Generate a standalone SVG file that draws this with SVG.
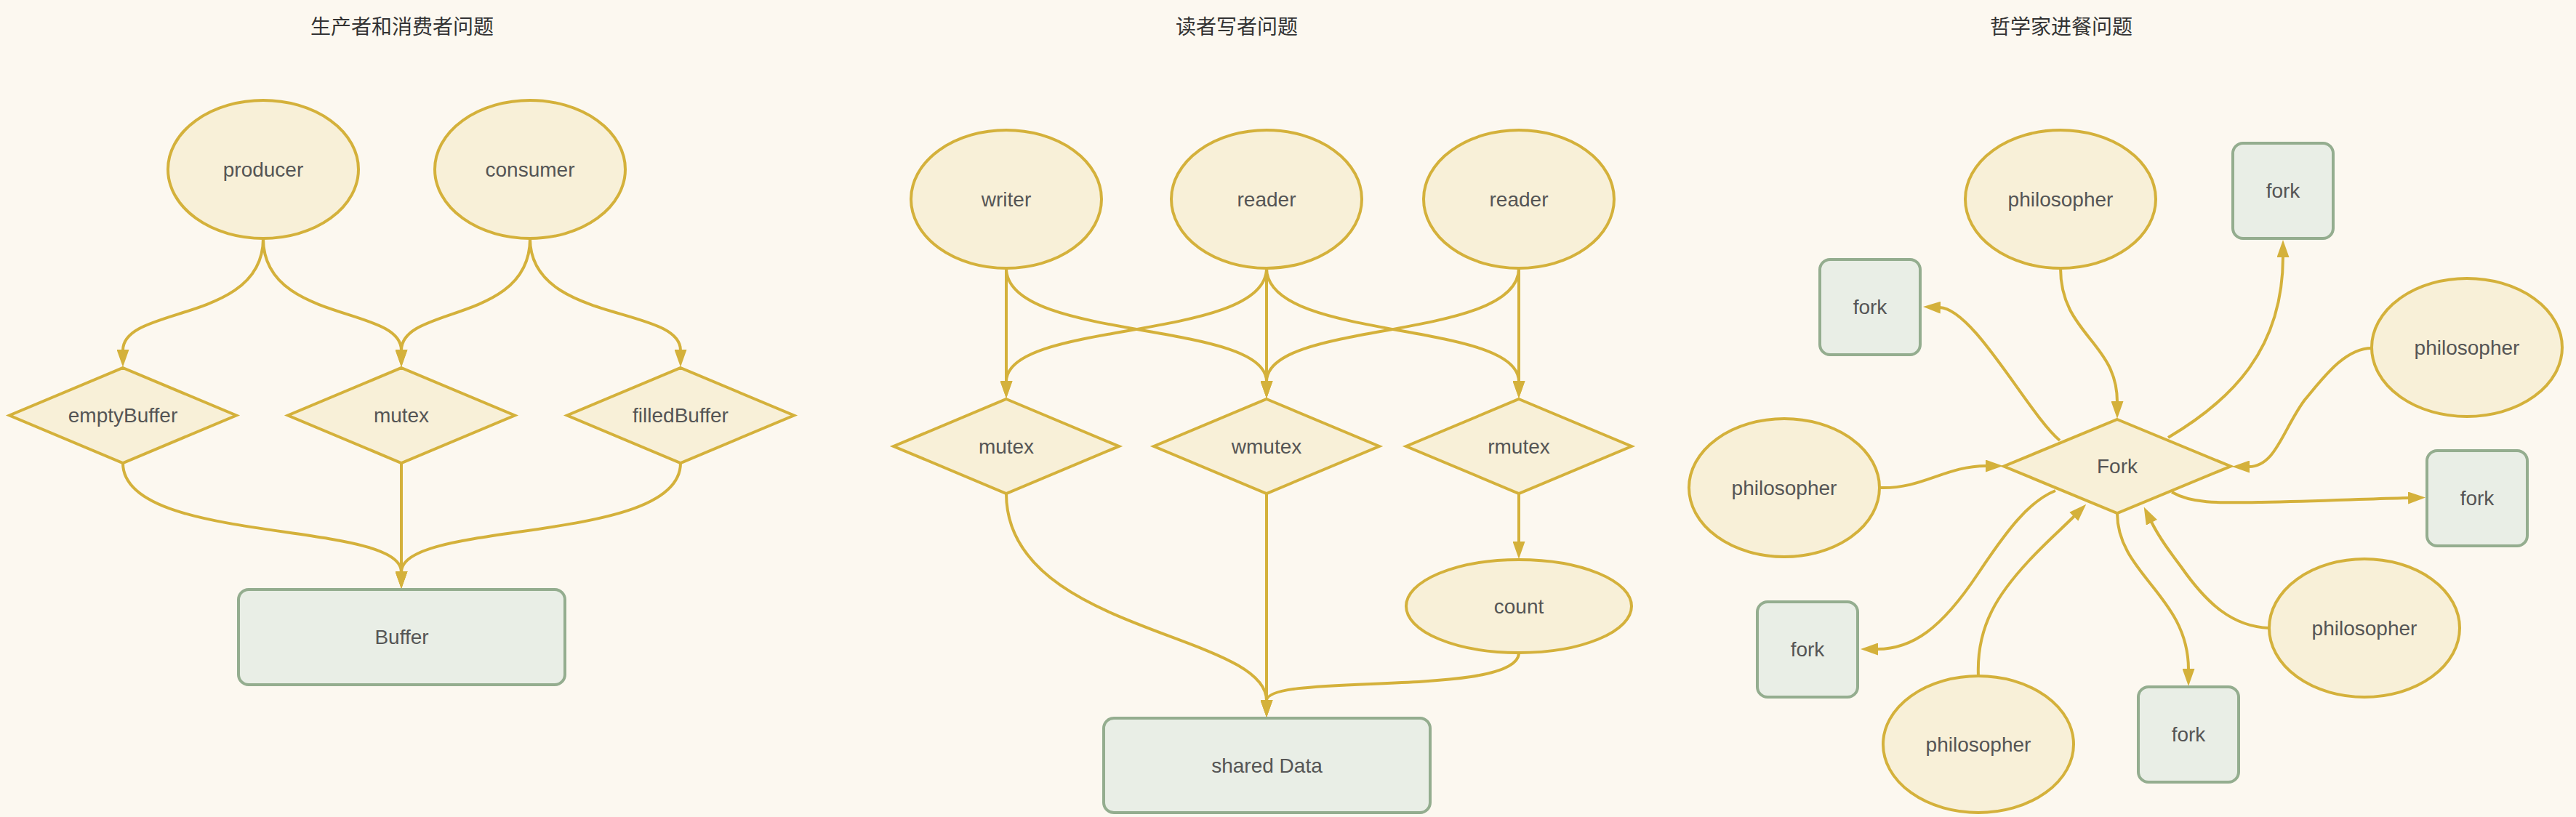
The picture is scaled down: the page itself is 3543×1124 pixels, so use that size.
<svg xmlns="http://www.w3.org/2000/svg" width="3543" height="1124" viewBox="0 0 3543 1124">
<style>
.bg{fill:#fcf8f0}
.title{font-family:"Noto Sans CJK SC","Noto Sans",sans-serif;font-size:28px;fill:#333333;text-anchor:middle;dominant-baseline:central}
.lbl{font-family:"Liberation Sans",Arial,sans-serif;font-size:28px;fill:#555555;text-anchor:middle;dominant-baseline:central}
.ell{fill:#f8f0d8;stroke:#d4b13b;stroke-width:4}
.dia{fill:#f8f0d8;stroke:#d4b13b;stroke-width:4}
.box{fill:#e9eee6;stroke:#94ad8f;stroke-width:4}
.edge{fill:none;stroke:#d4b13b;stroke-width:4;marker-end:url(#arr)}
</style>
<defs>
<marker id="arr" markerUnits="userSpaceOnUse" viewBox="0 0 24 17" markerWidth="24" markerHeight="17" refX="1" refY="8.5" orient="auto">
<path d="M0,0 L24,8.5 L0,17 z" fill="#d4b13b"/>
</marker>
</defs>
<rect class="bg" x="0" y="0" width="3543" height="1124"/>

<text class="title" x="553" y="35">生产者和消费者问题</text>
<text class="title" x="1701" y="35">读者写者问题</text>
<text class="title" x="2835" y="35">哲学家进餐问题</text>

<g id="connectors">
<!-- producer/consumer -->
<path class="edge" d="M362,328 C362,445 169,420 169,482"/>
<path class="edge" d="M362,328 C362,445 552,420 552,482"/>
<path class="edge" d="M729,328 C729,445 552,420 552,482"/>
<path class="edge" d="M729,328 C729,445 936,420 936,482"/>
<path class="edge" d="M169,637 C169,750 552,715 552,787"/>
<path class="edge" d="M552,637 L552,787"/>
<path class="edge" d="M936,637 C936,750 552,715 552,787"/>
<!-- readers/writers -->
<path class="edge" d="M1384,369 L1384,525"/>
<path class="edge" d="M1384,369 C1384,470 1742,440 1742,525"/>
<path class="edge" d="M1742,369 C1742,470 1384,440 1384,525"/>
<path class="edge" d="M1742,369 L1742,525"/>
<path class="edge" d="M1742,369 C1742,470 2089,440 2089,525"/>
<path class="edge" d="M2089,369 C2089,470 1742,440 1742,525"/>
<path class="edge" d="M2089,369 L2089,525"/>
<path class="edge" d="M2089,679 L2089,746"/>
<path class="edge" d="M1384,679 C1384,870 1742,870 1742,964"/>
<path class="edge" d="M1742,679 L1742,964"/>
<path class="edge" d="M2089,898 C2089,960 1742,925 1742,964"/>
<!-- philosophers -->
<path class="edge" d="M2834,369 C2834,460 2912,470 2912,553"/>
<path class="edge" d="M2833,606 C2790,570 2715,425 2668,423"/>
<path class="edge" d="M2982,602 C3070,550 3140,480 3140,353"/>
<path class="edge" d="M3262,479 C3225,479 3195,520 3170,550 C3140,590 3130,642 3093,642"/>
<path class="edge" d="M2585,671 C2645,673 2675,641 2732,641"/>
<path class="edge" d="M2987,677 C3015,693 3050,692 3110,691 C3200,689 3260,686 3313,685"/>
<path class="edge" d="M2827,675 C2790,690 2760,730 2720,790 C2670,865 2630,893 2582,893"/>
<path class="edge" d="M2721,930 C2718,860 2750,815 2790,772 C2815,745 2835,728 2853,710"/>
<path class="edge" d="M2912,706 C2912,790 3010,820 3010,921"/>
<path class="edge" d="M3121,864 C3070,862 3035,830 3000,780 C2985,760 2970,740 2959,718"/>
</g>

<!-- producer / consumer nodes -->
<g id="producer"><ellipse class="ell" cx="362" cy="233" rx="131" ry="95"/><text class="lbl" x="362" y="233">producer</text></g>
<g id="consumer"><ellipse class="ell" cx="729" cy="233" rx="131" ry="95"/><text class="lbl" x="729" y="233">consumer</text></g>
<g id="emptyBuffer"><polygon class="dia" points="169,506 325,571.5 169,637 13,571.5"/><text class="lbl" x="169" y="571">emptyBuffer</text></g>
<g id="mutex1"><polygon class="dia" points="552,506 708,571.5 552,637 396,571.5"/><text class="lbl" x="552" y="571">mutex</text></g>
<g id="filledBuffer"><polygon class="dia" points="936,506 1092,571.5 936,637 780,571.5"/><text class="lbl" x="936" y="571">filledBuffer</text></g>
<g id="buffer"><rect class="box" x="328" y="811" width="449" height="131" rx="14"/><text class="lbl" x="552.5" y="876">Buffer</text></g>

<!-- readers / writers nodes -->
<g id="writer"><ellipse class="ell" cx="1384" cy="274" rx="131" ry="95"/><text class="lbl" x="1384" y="274">writer</text></g>
<g id="reader1"><ellipse class="ell" cx="1742" cy="274" rx="131" ry="95"/><text class="lbl" x="1742" y="274">reader</text></g>
<g id="reader2"><ellipse class="ell" cx="2089" cy="274" rx="131" ry="95"/><text class="lbl" x="2089" y="274">reader</text></g>
<g id="mutex2"><polygon class="dia" points="1384,549 1539,614 1384,679 1229,614"/><text class="lbl" x="1384" y="614">mutex</text></g>
<g id="wmutex"><polygon class="dia" points="1742,549 1897,614 1742,679 1587,614"/><text class="lbl" x="1742" y="614">wmutex</text></g>
<g id="rmutex"><polygon class="dia" points="2089,549 2244,614 2089,679 1934,614"/><text class="lbl" x="2089" y="614">rmutex</text></g>
<g id="count"><ellipse class="ell" cx="2089" cy="834" rx="155" ry="64"/><text class="lbl" x="2089" y="834">count</text></g>
<g id="sharedData"><rect class="box" x="1518" y="988" width="449" height="130" rx="14"/><text class="lbl" x="1742.5" y="1053">shared Data</text></g>

<!-- dining philosophers nodes -->
<g id="philTop"><ellipse class="ell" cx="2834" cy="274" rx="131" ry="95"/><text class="lbl" x="2834" y="274">philosopher</text></g>
<g id="forkTR"><rect class="box" x="3071" y="197" width="138" height="131" rx="14"/><text class="lbl" x="3140" y="262">fork</text></g>
<g id="forkTL"><rect class="box" x="2503" y="357" width="138" height="131" rx="14"/><text class="lbl" x="2572" y="422">fork</text></g>
<g id="philRight"><ellipse class="ell" cx="3393" cy="478" rx="131" ry="95"/><text class="lbl" x="3393" y="478">philosopher</text></g>
<g id="forkCenter"><polygon class="dia" points="2912,577 3068,641.5 2912,706 2756,641.5"/><text class="lbl" x="2912" y="641">Fork</text></g>
<g id="philLeft"><ellipse class="ell" cx="2454" cy="671" rx="131" ry="95"/><text class="lbl" x="2454" y="671">philosopher</text></g>
<g id="forkR"><rect class="box" x="3338" y="620" width="138" height="131" rx="14"/><text class="lbl" x="3407" y="685">fork</text></g>
<g id="philBR"><ellipse class="ell" cx="3252" cy="864" rx="131" ry="95"/><text class="lbl" x="3252" y="864">philosopher</text></g>
<g id="forkBL"><rect class="box" x="2417" y="828" width="138" height="131" rx="14"/><text class="lbl" x="2486" y="893">fork</text></g>
<g id="philBottom"><ellipse class="ell" cx="2721" cy="1024" rx="131" ry="94"/><text class="lbl" x="2721" y="1024">philosopher</text></g>
<g id="forkB"><rect class="box" x="2941" y="945" width="138" height="131" rx="14"/><text class="lbl" x="3010" y="1010">fork</text></g>
</svg>
